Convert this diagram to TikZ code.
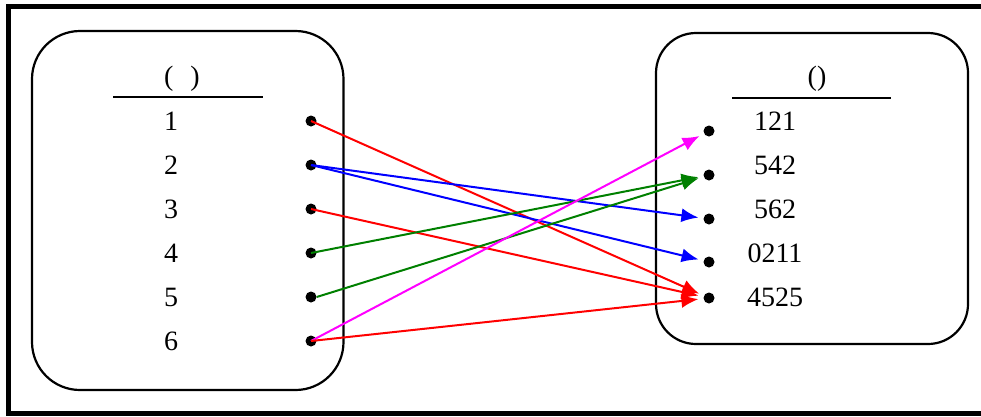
\documentclass[tikz,border=0pt]{standalone}
\usepackage{fontspec}
\setmainfont{Liberation Serif}
\usetikzlibrary{arrows.meta}
\definecolor{dgreen}{RGB}{0,128,0}
\definecolor{pmag}{RGB}{255,0,255}
\definecolor{pred}{RGB}{255,0,0}
\definecolor{pblue}{RGB}{0,0,255}
\begin{document}
\begin{tikzpicture}[x=1pt,y=-1pt,
  dot/.style={circle,fill=black,inner sep=0pt,minimum size=11pt},
  lbl/.style={font=\fontsize{28}{31}\selectfont,inner sep=0pt,anchor=center},
  setbox/.style={draw=black,line width=2.2pt},
  conn/.style={line width=2pt,shorten >=5pt,-{Latex[length=17pt,width=14pt]}}]
\useasboundingbox (0,0) rectangle (981,416);
% outer frame
\draw[line width=4.5pt] (990,6.5) -- (8.5,6.5) -- (8.5,413.5) -- (990,413.5);
% left box
\draw[setbox,rounded corners=48pt] (32,31) rectangle (343.5,390);
\node[lbl] (lt) at (182,79) {(\hspace{17pt})};
\draw[line width=2.2pt] (113,97) -- (263,97);
\foreach \i/\y in {1/121,2/165,3/209,4/253,5/297,6/341}{
  \node[lbl] (n\i) at (171,\y) {\i};
  \node[dot] (L\i) at (311,\y) {};
}
% right box
\draw[setbox,rounded corners=40pt] (656,33) rectangle (968,344);
\node[lbl] (rt) at (817,79) {()};
\draw[line width=2.2pt] (732,98) -- (891,98);
\node[lbl] (m1) at (775,121) {121};
\node[lbl] (m2) at (775,165) {542};
\node[lbl] (m3) at (775,209) {562};
\node[lbl] (m4) at (775,253) {0211};
\node[lbl] (m5) at (775,297) {4525};
\node[dot] (R1) at (709,131) {};
\node[dot] (R2) at (709,175) {};
\node[dot] (R3) at (709,219) {};
\node[dot] (R4) at (709,262) {};
\node[dot] (R5) at (709,298) {};
% connectors
\draw[conn,pred] (L1.center) -- (R5);
\draw[conn,pblue] (L2.center) -- (R3);
\draw[conn,pblue] (L2.center) -- (R4);
\draw[conn,pred] (L3.center) -- (R5);
\draw[conn,dgreen] (L4.center) -- (R2);
\draw[conn,dgreen] (L5.east) -- (R2);
\draw[conn,pmag] (L6.center) -- (R1);
\draw[conn,pred] (L6.center) -- (R5);
\end{tikzpicture}
\end{document}
